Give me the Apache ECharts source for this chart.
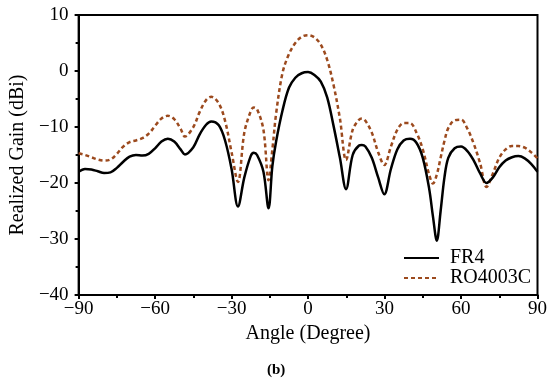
<!DOCTYPE html>
<html>
<head>
<meta charset="utf-8">
<script src="https://cdn.jsdelivr.net/npm/echarts@6/dist/echarts.min.js"></script>
<style>html,body{margin:0;padding:0;background:#fff}#c{width:550px;height:383px}</style>
</head>
<body>
<div id="c"></div>
<script>
const angles = [-90,-87.5,-85,-82.5,-80,-77.5,-75,-72.5,-70,-67.5,-65,-62.5,-60,-57.5,-55,-52.5,-50,-48.3,-45,-42.5,-40,-38,-35,-32.5,-30,-27.5,-25,-22.5,-21.3,-20,-17.5,-15.5,-14,-12.5,-10,-7.5,-5,-2.5,0,2.5,5,7.5,10,12.5,14.9,17.5,20,21.1,22.5,25,27.5,29.9,32.5,35,37.5,40,42.5,45,47.5,49,50.5,52,53.5,55,57.5,60,62.5,65,67.5,70,72.5,75,77.5,80,82.5,85,87.5,90];

const fr4 = [-18.0,-17.5,-17.6,-17.9,-18.2,-18.1,-17.3,-16.2,-15.3,-15.0,-15.1,-14.8,-13.8,-12.6,-12.1,-12.6,-14.0,-14.9,-13.6,-11.3,-9.6,-9.0,-9.7,-12.5,-17.5,-24.2,-19.0,-15.2,-14.6,-15.0,-18.0,-24.5,-17.0,-12.5,-7.0,-3.0,-1.2,-0.4,-0.2,-0.7,-1.9,-4.7,-9.8,-15.5,-21.1,-15.0,-13.3,-13.2,-13.5,-15.5,-19.0,-22.0,-17.5,-14.0,-12.4,-12.1,-12.8,-15.5,-21.0,-26.0,-30.3,-25.0,-19.0,-15.5,-13.8,-13.5,-14.3,-16.0,-18.3,-20.0,-19.0,-17.2,-16.0,-15.4,-15.2,-15.6,-16.6,-18.0];

const ro4003c = [-14.7,-15.0,-15.4,-15.8,-16.0,-15.8,-14.8,-13.5,-12.7,-12.4,-12.0,-11.2,-9.8,-8.5,-8.0,-8.6,-10.3,-11.7,-10.0,-7.3,-5.2,-4.6,-5.8,-9.0,-14.5,-19.8,-11.0,-7.2,-6.5,-6.8,-10.5,-19.5,-14.0,-7.5,-0.3,3.0,5.0,6.1,6.4,6.0,4.7,2.0,-2.5,-8.5,-15.9,-10.5,-8.7,-8.5,-8.9,-11.0,-14.5,-16.8,-13.5,-10.5,-9.3,-9.3,-11.0,-14.0,-18.5,-20.1,-18.5,-15.5,-12.5,-10.2,-8.8,-8.7,-10.3,-13.0,-16.5,-20.7,-18.3,-15.5,-14.0,-13.4,-13.4,-13.7,-14.5,-15.6];

const seriesNames = ['FR4', 'RO4003C'];
const xTitle = 'Angle (Degree)';
const yTitle = 'Realized Gain (dBi)';
const caption = '(b)';

const FONT = "'Liberation Serif','Times New Roman',serif";
const pair = (xs, ys) => xs.map((x, i) => [x, ys[i]]);
const fmt = v => (v < 0 ? '\u2212' + Math.abs(v) : String(v));

const chart = echarts.init(document.getElementById('c'), null, {renderer: 'canvas'});
chart.setOption({
  animation: false,
  backgroundColor: '#fff',
  grid: {left: 76, right: 11, top: 15, bottom: 88, show: true, borderColor: '#000', borderWidth: 2, backgroundColor: 'transparent'},
  xAxis: {
    type: 'value', min: -90, max: 90, interval: 30,
    name: xTitle, nameLocation: 'middle', nameGap: 28,
    nameTextStyle: {fontFamily: FONT, fontSize: 20, color: '#000'},
    axisLine: {onZero: false, lineStyle: {color: '#000', width: 2}},
    axisTick: {show: true, inside: false, length: 4, lineStyle: {color: '#000', width: 2}},
    minorTick: {show: true, splitNumber: 2, length: 3, lineStyle: {color: '#000', width: 2}},
    axisLabel: {fontFamily: FONT, fontSize: 19, color: '#000', margin: 5, formatter: fmt},
    splitLine: {show: false}
  },
  yAxis: {
    type: 'value', min: -40, max: 10, interval: 10,
    name: yTitle, nameLocation: 'middle', nameGap: 50, nameRotate: 90,
    nameTextStyle: {fontFamily: FONT, fontSize: 20, color: '#000'},
    axisLine: {show: true, onZero: false, lineStyle: {color: '#000', width: 2}},
    axisTick: {show: true, inside: false, length: 4, lineStyle: {color: '#000', width: 2}},
    minorTick: {show: true, splitNumber: 2, length: 3, lineStyle: {color: '#000', width: 2}},
    axisLabel: {fontFamily: FONT, fontSize: 19, color: '#000', margin: 10, formatter: fmt},
    splitLine: {show: false}
  },
  legend: {
    orient: 'vertical', left: 398, top: 243, itemWidth: 35, itemHeight: 14, itemGap: 0,
    itemStyle: {opacity: 0},
    textStyle: {fontFamily: FONT, fontSize: 20, color: '#000', lineHeight: 18, padding: [0, 0, 0, 6]},
    data: seriesNames
  },
  series: [
    {name: seriesNames[1], type: 'line', data: pair(angles, ro4003c), smooth: 0.35, symbol: 'none',
     lineStyle: {color: '#9c4a1e', width: 2.5, type: [4, 3]}, itemStyle: {color: '#9c4a1e'}, z: 2},
    {name: seriesNames[0], type: 'line', data: pair(angles, fr4), smooth: 0.35, symbol: 'none',
     lineStyle: {color: '#000', width: 2.5}, itemStyle: {color: '#000'}, z: 3}
  ],
  graphic: [{type: 'text', left: 267, top: 363, style: {text: caption, font: 'bold 15px ' + FONT, fill: '#000'}}]
});
</script>
</body>
</html>
